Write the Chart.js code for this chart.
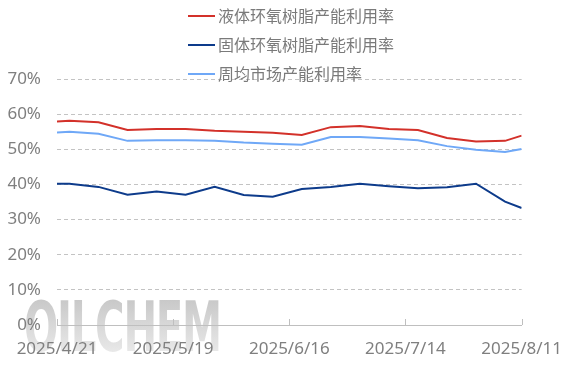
<!DOCTYPE html>
<html>
<head>
<meta charset="utf-8">
<script src="https://cdn.jsdelivr.net/npm/chart.js@4.4.1/dist/chart.umd.min.js"></script>
<style>
  html, body { margin: 0; padding: 0; background: #fff; }
  #wrap { position: relative; width: 568px; height: 378px; overflow: hidden; }
  #chart { position: absolute; left: 0; top: 0; z-index: 2; }
  .mark {
    position: absolute; left: 24px; top: 286px; z-index: 1;
    font: bold 70px 'DejaVu Sans Condensed', 'DejaVu Sans', sans-serif;
    letter-spacing: -2px;
    transform: scaleX(0.64); transform-origin: left top;
    background: linear-gradient(#c0c0c0, #f2f2f2);
    -webkit-background-clip: text; background-clip: text; color: transparent;
  }
  .legend { position: absolute; left: 188px; top: 2px; z-index: 3;
    font: 16px 'Noto Sans CJK SC', sans-serif; color: #7a7a7a; }
  .legend div { height: 29px; line-height: 26px; white-space: nowrap; }
  .legend span { display: inline-block; width: 27px; height: 2px; vertical-align: middle;
    margin-right: 3px; position: relative; top: -2px; }
</style>
</head>
<body>
<div id="wrap">
  <div class="mark">OILCHEM</div>
  <canvas id="chart" width="568" height="378"></canvas>
  <div class="legend" id="legend"></div>
</div>
<script>
// 液体/固体环氧树脂及周均市场产能利用率（%）
const dates = ['2025-04-21', '2025-04-24', '2025-05-01', '2025-05-08', '2025-05-15', '2025-05-22',
  '2025-05-29', '2025-06-05', '2025-06-12', '2025-06-19', '2025-06-26', '2025-07-03',
  '2025-07-10', '2025-07-17', '2025-07-24', '2025-07-31', '2025-08-07', '2025-08-11'];
const liquid = [57.9, 58.1, 57.7, 55.5, 55.8, 55.8, 55.3, 55.0, 54.7, 54.1, 56.3, 56.6,
  55.8, 55.5, 53.2, 52.2, 52.4, 53.9];
const solid = [40.2, 40.2, 39.3, 37.1, 38.0, 37.1, 39.3, 37.0, 36.5, 38.7, 39.3, 40.2,
  39.5, 38.9, 39.2, 40.2, 35.1, 33.3];
const market = [54.8, 55.0, 54.4, 52.4, 52.6, 52.6, 52.4, 51.9, 51.6, 51.3, 53.5, 53.5,
  53.1, 52.6, 50.9, 49.9, 49.2, 50.1];
const xTickLabels = ['2025/4/21', '2025/5/19', '2025/6/16', '2025/7/14', '2025/8/11'];
const yTickLabels = ['0%', '10%', '20%', '30%', '40%', '50%', '60%', '70%'];
const names = ['液体环氧树脂产能利用率', '固体环氧树脂产能利用率', '周均市场产能利用率'];
const colors = ['#d3312a', '#0d3b8b', '#6fa8f7'];

const t0 = Date.parse(dates[0]);
const days = dates.map(d => (Date.parse(d) - t0) / 86400000);
const pts = arr => arr.map((v, i) => ({ x: days[i], y: v }));

// tick marks pointing up from the category axis
const upTicks = {
  id: 'upTicks',
  afterDatasetsDraw(chart) {
    const { ctx, scales: { x, y } } = chart;
    const base = y.getPixelForValue(0);
    ctx.save();
    ctx.strokeStyle = '#bfbfbf';
    ctx.lineWidth = 1;
    x.ticks.forEach(t => {
      const px = Math.round(x.getPixelForValue(t.value)) + 0.5;
      ctx.beginPath();
      ctx.moveTo(px, base);
      ctx.lineTo(px, base - 6);
      ctx.stroke();
    });
    ctx.restore();
  }
};

const series = [liquid, solid, market];
new Chart(document.getElementById('chart'), {
  type: 'line',
  data: {
    datasets: series.map((s, i) => ({
      label: names[i],
      data: pts(s),
      borderColor: colors[i],
      backgroundColor: colors[i],
      borderWidth: 2,
      pointRadius: 0,
      tension: 0
    }))
  },
  options: {
    responsive: false,
    animation: false,
    layout: { padding: { left: 0, right: 46, top: 79, bottom: 0 } },
    plugins: { legend: { display: false }, tooltip: { enabled: false } },
    scales: {
      x: {
        type: 'linear', min: 0, max: 112,
        afterFit: s => { s.height = 53; },
        afterBuildTicks: s => { s.ticks = [0, 28, 56, 84, 112].map(v => ({ value: v })); },
        grid: { display: false },
        border: { color: '#bfbfbf', width: 1 },
        ticks: {
          color: '#7f7f7f', padding: 6, maxRotation: 0, autoSkip: false,
          font: { family: 'Noto Sans', size: 17 },
          callback: (v, i) => xTickLabels[i]
        }
      },
      y: {
        min: 0, max: 70,
        afterFit: s => { s.width = 57; },
        ticks: {
          stepSize: 10, color: '#7f7f7f', padding: 16,
          font: { family: 'Noto Sans', size: 17 },
          callback: (v, i) => yTickLabels[i]
        },
        grid: {
          color: c => c.tick.value === 0 ? 'rgba(0,0,0,0)' : '#c3c3c3',
          drawTicks: false
        },
        border: { display: false, dash: [4, 3] }
      }
    }
  },
  plugins: [upTicks]
});

document.getElementById('legend').innerHTML = names.map((n, i) =>
  '<div><span style="background:' + colors[i] + '"></span>' + n + '</div>').join('');
</script>
</body>
</html>
